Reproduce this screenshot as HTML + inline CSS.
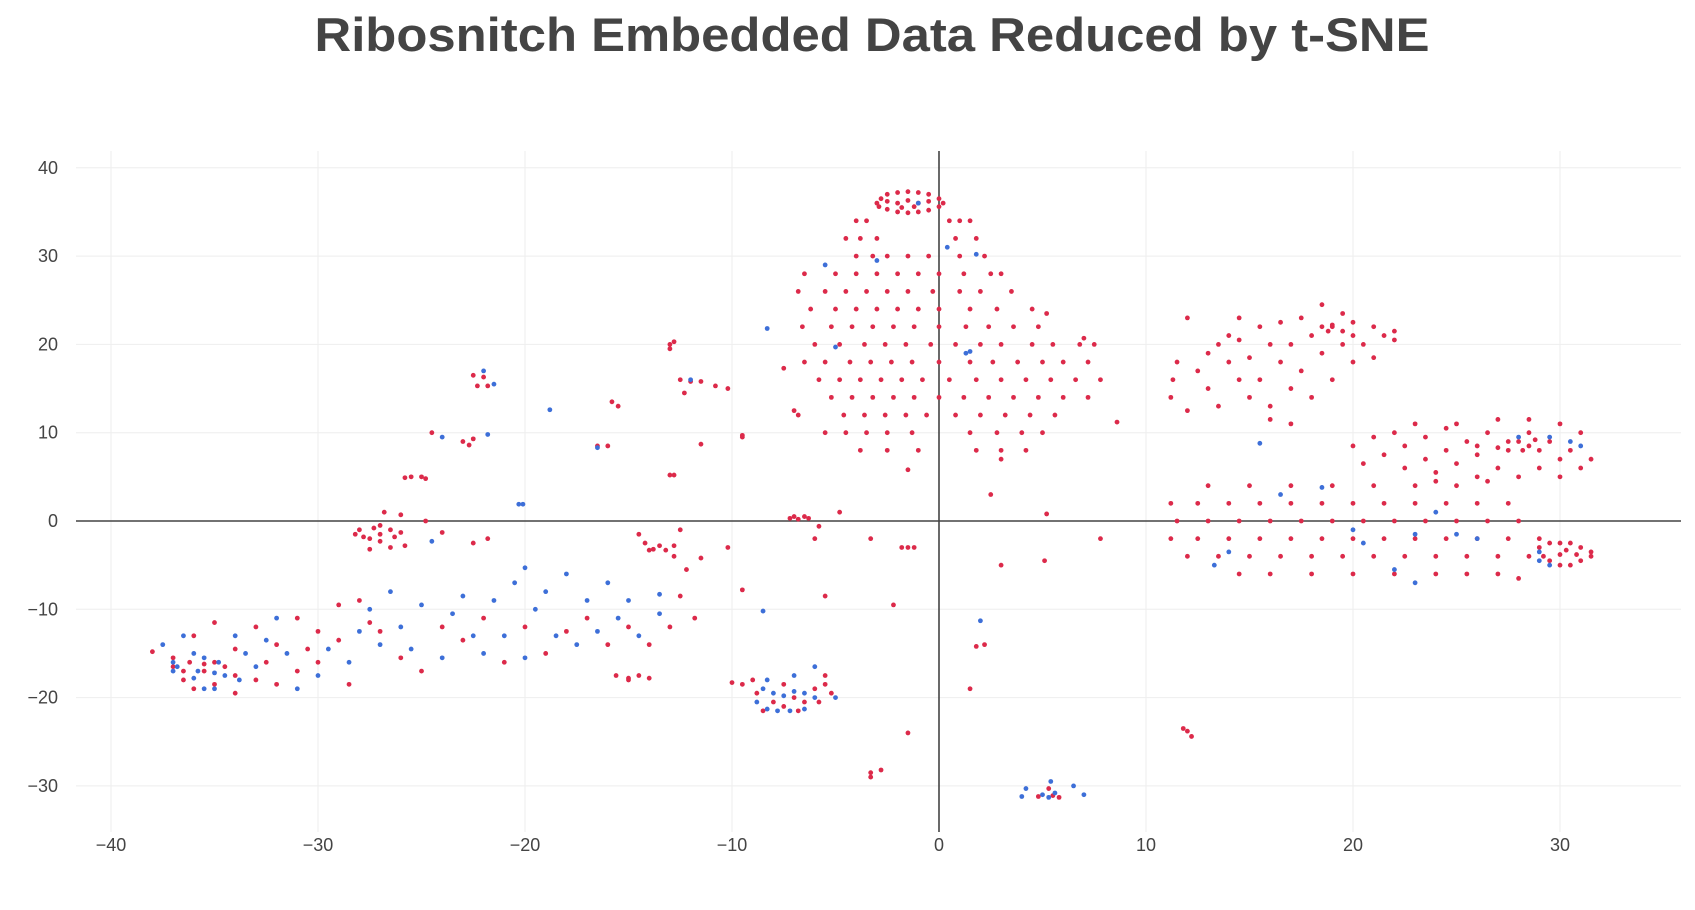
<!DOCTYPE html>
<html><head><meta charset="utf-8">
<style>
html,body{margin:0;padding:0;background:#fff;}
svg text{font-family:"Liberation Sans",sans-serif;fill:#444;}
</style></head>
<body>
<svg id="chart" width="1695" height="905" viewBox="0 0 1695 905" xmlns="http://www.w3.org/2000/svg">
<text x="872" y="51" text-anchor="middle" font-size="47" font-weight="bold" textLength="1115" lengthAdjust="spacingAndGlyphs">Ribosnitch Embedded Data Reduced by t-SNE</text>
<g id="grid"></g>
<g id="axes"></g>
<g id="red"></g>
<g id="blue"></g>
</svg>
<script>
const xTicks=[-40,-30,-20,-10,0,10,20,30];
const yTicks=[-30,-20,-10,0,10,20,30,40];
const redPts=[
[-3,36],[-2.8,36.5],[-2.5,37],[-2,37.2],[-1.5,37.3],[-1,37.2],[-0.5,37],[0,36.5],[0.2,36],[0,35.6],[-0.5,35.2],[-1,35],[-1.5,34.9],[-2,35],[-2.5,35.3],[-2.9,35.6],[-2,36],[-1,36],[-1.5,36.3],[-0.5,36.2],[-2.5,36.2],[-1.2,35.6],[-1.8,35.5],
[-4,34],[-3.5,34],[0.5,34],[1,34],[1.5,34],
[-4.5,32],[-3.8,32],[-3,32],[0.8,32],[1.8,32],
[-4,30],[-3.2,30],[-2.5,30],[-1.5,30],[-0.5,30],[1,30],[2.2,30],
[-6.5,28],[-5,28],[-4,28],[-3,28],[-2,28],[-1,28],[0,28],[1.2,28],[2.5,28],[3,28],
[-6.8,26],[-5.5,26],[-4.5,26],[-3.5,26],[-2.5,26],[-1.5,26],[-0.3,26],[1,26],[2,26],[3.5,26],
[-6.2,24],[-5,24],[-4,24],[-3,24],[-2,24],[-1,24],[0,24],[1.5,24],[2.8,24],[4.5,24],
[-6.6,22],[-5.2,22],[-4.2,22],[-3.2,22],[-2.2,22],[-1.2,22],[0,22],[1.3,22],[2.4,22],[3.6,22],[4.8,22],
[-6,20],[-4.8,20],[-3.6,20],[-2.6,20],[-1.6,20],[-0.4,20],[0.8,20],[2,20],[3,20],[4.5,20],[5.5,20],[6.8,20],[7.5,20],
[-6.5,18],[-5.5,18],[-4.3,18],[-3.3,18],[-2.3,18],[-1.3,18],[0,18],[1.5,18],[2.6,18],[3.8,18],[5,18],[6,18],[7.2,18],
[-5.8,16],[-4.8,16],[-3.8,16],[-2.8,16],[-1.8,16],[-0.8,16],[0.5,16],[1.8,16],[3,16],[4.2,16],[5.4,16],[6.6,16],[7.8,16],
[-5.2,14],[-4.2,14],[-3.2,14],[-2.2,14],[-1.2,14],[0,14],[1.2,14],[2.4,14],[3.6,14],[4.8,14],[6,14],[7.2,14],
[-6.8,12],[-4.6,12],[-3.6,12],[-2.6,12],[-1.6,12],[-0.6,12],[0.8,12],[2,12],[3.2,12],[4.4,12],[5.6,12],[8.6,11.2],
[-5.5,10],[-4.5,10],[-3.5,10],[-2.5,10],[-1.3,10],[1.5,10],[2.8,10],[4,10],[5,10],
[-3.8,8],[-2.5,8],[-1,8],[1.8,8],[3,8],[4.2,8],[-1.5,5.8],[3,7],
[5.2,23.5],[7,20.7],[2.5,3],[3,-5],[7.8,-2],[5.2,0.8],[5.1,-4.5],
[-22.5,16.5],[-22,16.3],[-22.3,15.3],[-21.8,15.3],[-23,9],[-22.7,8.6],[-22.5,9.3],[-24.5,10],[-25.5,5],[-25,5],[-24.8,4.8],[-25.8,4.9],
[-26.8,1],[-26,0.7],[-24.8,0],[-24,-1.3],[-22.5,-2.5],[-21.8,-2],
[-28,-1],[-27.8,-1.8],[-27.3,-0.8],[-27,-1.5],[-26.5,-1],[-26.3,-1.8],[-27.5,-2],[-28.2,-1.5],[-26,-1.3],[-27,-2.3],[-27.5,-3.2],[-26.5,-3],[-25.8,-2.8],[-27,-0.5],
[-13,20],[-12.8,20.3],[-12.5,16],[-12,15.8],[-12.3,14.5],[-11.5,15.8],[-10.8,15.3],[-10.2,15],[-15.8,13.5],[-15.5,13],[-16,8.5],[-13,5.2],[-12.8,5.2],[-11.5,8.7],[-9.5,9.7],[-13,19.5],
[-14.5,-1.5],[-14.2,-2.5],[-13.8,-3.2],[-13.2,-3.3],[-12.8,-2.8],[-13.5,-2.8],[-14,-3.3],[-12.5,-1],[-12.8,-4],[-12.2,-5.5],[-11.5,-4.2],[-10.2,-3],[-12.5,-8.5],[-11.8,-11],[-9.5,-7.8],
[-7,0.5],[-6.8,0.2],[-6.5,0.5],[-6.3,0.3],[-7.2,0.3],[-5.8,-0.6],[-4.8,1],[-6,-2],[-5.5,-8.5],[-7,12.5],[-3.3,-2],[-1.8,-3],[-1.5,-3],[-1.2,-3],[-2.2,-9.5],[-1.5,-24],[1.5,-19],[1.8,-14.2],[2.2,-14],[-3.3,-28.5],[-3.3,-29],[-2.8,-28.2],[12,-23.8],[12.2,-24.4],[11.8,-23.5],[-15,-17.8],[-15,-18],[-14.5,-17.5],[-14,-17.8],[-15.6,-17.5],[-16.5,8.5],[-7.5,17.3],[-9.5,9.5],
[-38,-14.8],[-37,-16.5],[-36.5,-18],[-36,-19],[-35.5,-17],[-35,-18.5],[-34,-19.5],[-34,-17.5],[-33,-18],[-32,-18.5],[-31,-17],[-30,-16],[-30,-12.5],[-32,-14],[-33,-12],[-34,-14.5],[-29,-13.5],[-28,-9],[-27,-12.5],[-26,-15.5],[-25,-17],[-24,-12],[-23,-13.5],[-22,-11],[-21,-16],[-20,-12],[-19,-15],[-18,-12.5],[-17,-11],[-16,-14],[-15,-12],[-14,-14],[-13,-12],[-31,-11],[-29,-9.5],[-35,-11.5],[-36,-13],[-37,-15.5],[-36.2,-16],[-35.5,-16.2],[-36.5,-17],[-34.5,-16.5],[-35,-16],[-32.5,-16],[-28.5,-18.5],[-27.5,-11.5],[-30.5,-14.5],
[-9.5,-18.5],[-8.8,-19.5],[-8,-20.5],[-7.5,-21],[-7,-20],[-6.5,-20.5],[-6,-19],[-5.5,-18.5],[-5.2,-19.5],[-5.5,-17.5],[-7.5,-18.5],[-8.5,-21.5],[-6.8,-21.5],[-5.8,-20.5],[-9,-18],[-10,-18.3],
[4.8,-31.2],[5.5,-31.1],[5.8,-31.3],[5.3,-30.3],
[11.2,14],[11.3,16],[11.5,18],[12,23],[12.5,17],[13,19],[13.5,20],[13,15],[13.5,13],[14,18],[14,21],[14.5,16],[14.5,20.5],[15,14],[15,18.5],[15.5,22],[15.5,16],[16,20],[16,13],[16.5,18],[16.5,22.5],[17,15],[17,20],[17.5,17],[17.5,23],[18,21],[18,14],[18.5,19],[18.5,24.5],[19,16],[19,22],[19.5,20],[19.5,23.5],[20,18],[20,22.5],[20.5,20],[21,22],[21,18.5],[21.5,21],[22,21.5],[22,20.5],[19,22.2],[18.8,21.5],[18.5,22],[19.5,21.5],[20,21],[17,11],[12,12.5],[14.5,23],[16,11.5],
[20,8.5],[20.5,6.5],[21,9.5],[21.5,7.5],[22,10],[22.5,6],[22.5,8.5],[23,11],[23.5,7],[23.5,9.5],[24,5.5],[24.5,8],[24.5,10.5],[25,6.5],[25,11],[25.5,9],[26,5],[26,7.5],[26.5,10],[27,6],[27,11.5],[27.5,8],[28,5],[28,9],[28.5,8.5],[28.5,10],[29,8],[29,6],[29.5,9],[30,7],[30,5],[30.5,8],[31,6],[31.5,7],[31,10],[30,11],[28.5,11.5],[26.5,4.5],[24,4.5],[27.5,9],[28.2,8],[27,8.3],[28.8,9.2],[26,8.5],
[13,4],[15,4],[17,4],[19,4],[21,4],[23,4],[25,4],
[11.2,2],[12.5,2],[14,2],[15.5,2],[17,2],[18.5,2],[20,2],[21.5,2],[23,2],[24.5,2],[26,2],[27.5,2],
[11.5,0],[13,0],[14.5,0],[16,0],[17.5,0],[19,0],[20.5,0],[22,0],[23.5,0],[25,0],[26.5,0],[28,0],
[11.2,-2],[12.5,-2],[14,-2],[15.5,-2],[17,-2],[18.5,-2],[20,-2],[21.5,-2],[23,-2],[24.5,-2],[26,-2],[27.5,-2],[29,-2],
[12,-4],[13.5,-4],[15,-4],[16.5,-4],[18,-4],[19.5,-4],[21,-4],[22.5,-4],[24,-4],[25.5,-4],[27,-4],[28.5,-4],
[14.5,-6],[16,-6],[18,-6],[20,-6],[22,-6],[24,-6],[25.5,-6],[27,-6],[28,-6.5],
[29,-3],[29.5,-2.5],[30,-2.5],[30.5,-2.5],[31,-3],[31.5,-3.5],[31.5,-4],[31,-4.5],[30.5,-5],[30,-5],[29.5,-4.5],[29.2,-4],[30,-3.8],[30.8,-3.8],[30.3,-3.3]
];
const bluePts=[
[-37.5,-14],[-37,-16],[-37,-17],[-36.5,-13],[-36,-15],[-35.5,-19],[-35,-19],[-34.5,-17.5],[-34,-13],[-33.5,-15],[-33,-16.5],[-32.5,-13.5],[-32,-11],[-31.5,-15],[-31,-19],[-30,-17.5],[-29.5,-14.5],[-28.5,-16],[-28,-12.5],[-27.5,-10],[-27,-14],[-26.5,-8],[-26,-12],[-25.5,-14.5],[-25,-9.5],[-24,-15.5],[-23.5,-10.5],[-23,-8.5],[-22.5,-13],[-22,-15],[-21.5,-9],[-21,-13],[-20.5,-7],[-20,-5.3],[-20,-15.5],[-19.5,-10],[-19,-8],[-18.5,-13],[-18,-6],[-17.5,-14],[-17,-9],[-16.5,-12.5],[-16,-7],[-15.5,-11],[-15,-9],[-14.5,-13],[-13.5,-8.3],[-13.5,-10.5],[-35.8,-17],[-36,-17.8],[-35,-17.2],[-36.8,-16.5],[-34.8,-16],[-35.5,-15.5],[-33.8,-18],
[-8.5,-19],[-8,-19.5],[-7.5,-19.8],[-7,-19.3],[-6.5,-19.5],[-8.8,-20.5],[-8.3,-21.3],[-7.8,-21.5],[-7.2,-21.5],[-6.5,-21.3],[-6,-20],[-7,-17.5],[-6,-16.5],[-8.3,-18],[-5,-20],
[-22,17],[-21.5,15.5],[-21.8,9.8],[-24,9.5],[-24.5,-2.3],[-20.3,1.9],[-20.1,1.9],[-18.8,12.6],[-16.5,8.3],[-12,16],[-8.3,21.8],[-8.5,-10.2],[-5.5,29],[-5,19.7],[-3,29.5],[-1,36],[0.4,31],[1.8,30.2],[1.3,19],[1.5,19.2],[2,-11.3],[4.2,-30.3],[4,-31.2],[5,-31],[5.3,-31.3],[5.6,-30.8],[5.4,-29.5],[6.5,-30],[7,-31],[15.5,8.8],[18.5,3.8],[16.5,3],[13.3,-5],[14,-3.5],[20,-1],[20.5,-2.5],[22,-5.5],[23,-1.5],[24,1],[25,-1.5],[26,-2],[29,-3.5],[29,-4.5],[29.5,-5],[28,9.5],[29.5,9.5],[30.5,9],[31,8.5],[23,-7]
];
const X0=939,XS=20.7,Y0=521,YS=8.83;
const L=76,R=1681,T=151,B=832;
const xp=v=>X0+v*XS, yp=v=>Y0-v*YS;
const NS="http://www.w3.org/2000/svg";
function mk(tag,attrs,parent){const e=document.createElementNS(NS,tag);for(const k in attrs)e.setAttribute(k,attrs[k]);parent.appendChild(e);return e;}
const grid=document.getElementById('grid'),axes=document.getElementById('axes');
xTicks.forEach(t=>{
  if(t!==0){const g=mk('line',{x1:xp(t),x2:xp(t),y1:T,y2:B,stroke:'#eee','stroke-width':1},grid);
  
  }
  const tx=mk('text',{x:xp(t),y:B+19,'text-anchor':'middle','font-size':18},axes);
  
  
  tx.textContent=t<0?'\u2212'+Math.abs(t):String(t);
});
yTicks.forEach(t=>{
  if(t!==0){const g=mk('line',{x1:L,x2:R,y1:yp(t),y2:yp(t),stroke:'#eee','stroke-width':1},grid);
  
  }
  const tx=mk('text',{x:58,y:yp(t)+6,'text-anchor':'end','font-size':18},axes);
  
  
  tx.textContent=t<0?'\u2212'+Math.abs(t):String(t);
});
const zx=mk('line',{x1:xp(0),x2:xp(0),y1:T,y2:B,stroke:'#444','stroke-width':1.6},axes);


const zy=mk('line',{x1:L,x2:R,y1:yp(0),y2:yp(0),stroke:'#444','stroke-width':1.6},axes);


const rg=document.getElementById('red'),bg=document.getElementById('blue');
redPts.forEach(p=>{const c=mk('circle',{cx:xp(p[0]),cy:yp(p[1]),r:2.4,fill:'#dc2a4a'},rg);
  
  });
bluePts.forEach(p=>{const c=mk('circle',{cx:xp(p[0]),cy:yp(p[1]),r:2.4,fill:'#3d6fd8'},bg);
  
  });
</script>
</body></html>
